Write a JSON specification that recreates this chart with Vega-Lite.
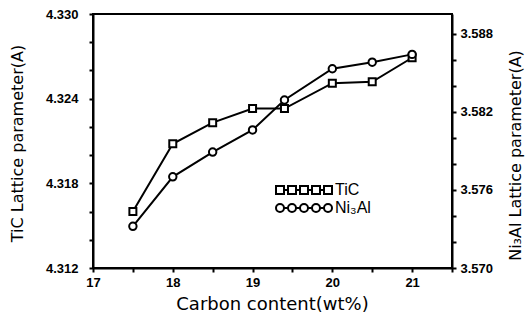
{
  "$schema": "https://vega.github.io/schema/vega-lite/v6.json",
  "width": 359,
  "height": 254,
  "autosize": {"type": "none"},
  "padding": {"left": 93, "top": 14, "right": 77, "bottom": 53},
  "background": "white",
  "config": {
    "view": {"stroke": "black", "strokeWidth": 2},
    "axis": {
      "grid": false,
      "domainColor": "black",
      "domainWidth": 2,
      "tickColor": "black",
      "tickWidth": 2,
      "tickSize": 4,
      "labelFont": "Liberation Sans",
      "labelFontWeight": "bold",
      "labelFontSize": 13,
      "labelColor": "black",
      "labelOverlap": false,
      "labelFlush": false,
      "titleFont": "DejaVu Sans",
      "titleFontWeight": "normal",
      "titleFontSize": 16,
      "titleColor": "black"
    }
  },
  "data": {
    "values": [
      {"carbon": 17.5, "lattice": 4.3160, "series": "TiC"},
      {"carbon": 18.0, "lattice": 4.3208, "series": "TiC"},
      {"carbon": 18.5, "lattice": 4.3223, "series": "TiC"},
      {"carbon": 19.0, "lattice": 4.3233, "series": "TiC"},
      {"carbon": 19.4, "lattice": 4.3233, "series": "TiC"},
      {"carbon": 20.0, "lattice": 4.3251, "series": "TiC"},
      {"carbon": 20.5, "lattice": 4.3252, "series": "TiC"},
      {"carbon": 21.0, "lattice": 4.3269, "series": "TiC"},
      {"carbon": 17.5, "lattice": 3.5732, "series": "Ni₃Al"},
      {"carbon": 18.0, "lattice": 3.5770, "series": "Ni₃Al"},
      {"carbon": 18.5, "lattice": 3.5789, "series": "Ni₃Al"},
      {"carbon": 19.0, "lattice": 3.5806, "series": "Ni₃Al"},
      {"carbon": 19.4, "lattice": 3.5829, "series": "Ni₃Al"},
      {"carbon": 20.0, "lattice": 3.5853, "series": "Ni₃Al"},
      {"carbon": 20.5, "lattice": 3.5858, "series": "Ni₃Al"},
      {"carbon": 21.0, "lattice": 3.5864, "series": "Ni₃Al"}
    ]
  },
  "layer": [
    {
      "transform": [{"filter": "datum.series === 'TiC'"}],
      "encoding": {
        "x": {
          "field": "carbon", "type": "quantitative",
          "scale": {"domain": [17, 21.5], "nice": false, "zero": false},
          "axis": {
            "values": [17, 17.5, 18, 18.5, 19, 19.5, 20, 20.5, 21, 21.5],
            "labelExpr": "datum.value % 1 === 0 ? format(datum.value, 'd') : ''",
            "labelPadding": 4,
            "encode": {"ticks": {"update": {"y2": {"value": -4}}}},
            "title": "Carbon content(wt%)",
            "titleFontSize": 18,
            "titleX": 179,
            "titleY": 36,
            "titleBaseline": "middle"
          }
        },
        "y": {
          "field": "lattice", "type": "quantitative",
          "scale": {"domain": [4.312, 4.330], "nice": false, "zero": false},
          "axis": {
            "orient": "left",
            "values": [4.312, 4.314, 4.316, 4.318, 4.32, 4.322, 4.324, 4.326, 4.328, 4.33],
            "labelExpr": "(round(datum.value*1000) - 4312) % 6 === 0 ? format(datum.value, '.3f') : ''",
            "labelPadding": 11,
            "encode": {"ticks": {"update": {"x2": {"value": 4}}}},
            "title": "TiC Lattice parameter(A)",
            "titleAngle": 270,
            "titleX": -76,
            "titleY": 129,
            "titleAlign": "center",
            "titleBaseline": "middle"
          }
        }
      },
      "layer": [
        {"mark": {"type": "line", "color": "black", "strokeWidth": 2}},
        {"mark": {"type": "point", "shape": "square", "filled": true, "fill": "white", "stroke": "black", "strokeWidth": 2, "size": 49, "opacity": 1}},
        {
          "mark": {"type": "point", "opacity": 0, "filled": false},
          "encoding": {
            "shape": {
              "field": "series", "type": "nominal",
              "scale": {
                "domain": ["TiC", "Ni₃Al"],
                "range": [
                  "M-5.6,-0.8L-4,-0.8L-4,0.8L-5.6,0.8Z M-3.2,-0.8L-1.6,-0.8L-1.6,0.8L-3.2,0.8Z M-0.8,-0.8L0.8,-0.8L0.8,0.8L-0.8,0.8Z M1.6,-0.8L3.2,-0.8L3.2,0.8L1.6,0.8Z M4,-0.8L5.6,-0.8L5.6,0.8L4,0.8Z M-4,0L-3.2,0 M-1.6,0L-0.8,0 M0.8,0L1.6,0 M3.2,0L4,0",
                  "M-5.6,0A0.8,0.8 0 1,0 -4,0A0.8,0.8 0 1,0 -5.6,0Z M-3.2,0A0.8,0.8 0 1,0 -1.6,0A0.8,0.8 0 1,0 -3.2,0Z M-0.8,0A0.8,0.8 0 1,0 0.8,0A0.8,0.8 0 1,0 -0.8,0Z M1.6,0A0.8,0.8 0 1,0 3.2,0A0.8,0.8 0 1,0 1.6,0Z M4,0A0.8,0.8 0 1,0 5.6,0A0.8,0.8 0 1,0 4,0Z M-4,0L-3.2,0 M-1.6,0L-0.8,0 M0.8,0L1.6,0 M3.2,0L4,0"
                ]
              },
              "legend": {
                "orient": "none",
                "legendX": 203,
                "legendY": 168,
                "title": null,
                "symbolSize": 100,
                "symbolOpacity": 1,
                "symbolStrokeColor": "black",
                "symbolStrokeWidth": 2,
                "symbolFillColor": "white",
                "labelFont": "Liberation Sans",
                "labelFontSize": 16,
                "labelColor": "black",
                "labelOffset": 23,
                "rowPadding": 2
              }
            }
          }
        }
      ]
    },
    {
      "transform": [{"filter": "datum.series !== 'TiC'"}],
      "encoding": {
        "x": {
          "field": "carbon", "type": "quantitative",
          "scale": {"domain": [17, 21.5], "nice": false, "zero": false},
          "axis": {
            "values": [17, 17.5, 18, 18.5, 19, 19.5, 20, 20.5, 21, 21.5],
            "labelExpr": "datum.value % 1 === 0 ? format(datum.value, 'd') : ''",
            "labelPadding": 4,
            "encode": {"ticks": {"update": {"y2": {"value": -4}}}},
            "title": "Carbon content(wt%)",
            "titleFontSize": 18,
            "titleX": 179,
            "titleY": 36,
            "titleBaseline": "middle"
          }
        },
        "y": {
          "field": "lattice", "type": "quantitative",
          "scale": {"domain": [3.570, 3.5895], "nice": false, "zero": false},
          "axis": {
            "orient": "right",
            "values": [3.570, 3.572, 3.574, 3.576, 3.578, 3.58, 3.582, 3.584, 3.586, 3.588],
            "labelExpr": "(round(datum.value*1000) - 3570) % 6 === 0 ? format(datum.value, '.3f') : ''",
            "labelPadding": 4,
            "encode": {"ticks": {"update": {"x2": {"value": -4}}}},
            "title": "Ni₃Al Lattice parameter(A)",
            "titleAngle": 270,
            "titleX": 63,
            "titleY": 141,
            "titleAlign": "center",
            "titleBaseline": "middle"
          }
        }
      },
      "layer": [
        {"mark": {"type": "line", "color": "black", "strokeWidth": 2}},
        {"mark": {"type": "point", "shape": "circle", "filled": true, "fill": "white", "stroke": "black", "strokeWidth": 2, "size": 55, "opacity": 1}}
      ]
    }
  ],
  "resolve": {"scale": {"y": "independent"}}
}
